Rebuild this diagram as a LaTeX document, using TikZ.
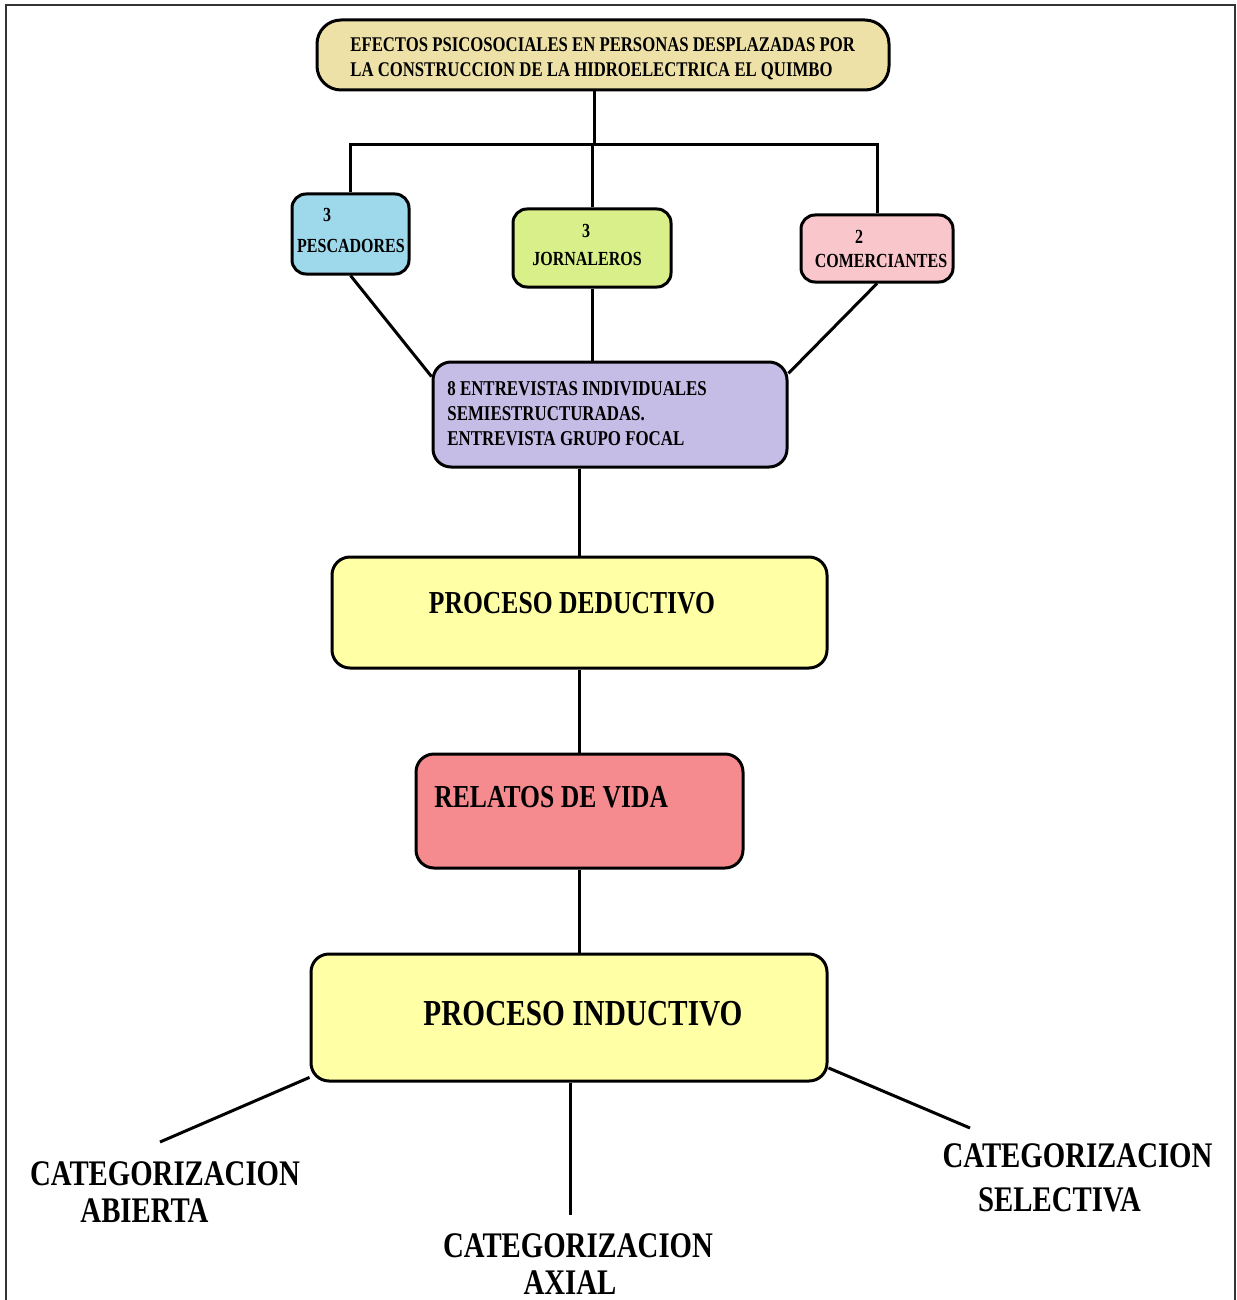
\documentclass[tikz,border=0pt]{standalone}
\usepackage{fontspec}
\setmainfont{Liberation Serif}[FakeStretch=0.8]
\usetikzlibrary{calc,positioning}

\definecolor{tanfill}{RGB}{238,225,168}
\definecolor{bluefill}{RGB}{157,217,235}
\definecolor{greenfill}{RGB}{217,240,138}
\definecolor{pinkfill}{RGB}{249,198,203}
\definecolor{lilacfill}{RGB}{197,189,230}
\definecolor{yellowfill}{RGB}{255,255,166}
\definecolor{redfill}{RGB}{245,139,143}

\begin{document}
\begin{tikzpicture}[x=0.5pt, y=-0.5pt]
  \useasboundingbox (0,0) rectangle (1236,1300);
  % ---- page frame (bottom edge runs off the page) -------------
  \draw[line width=0.8pt, black!80] (6,1320) -- (6,5) -- (1235,5) -- (1235,1320);

  % ---- styles --------------------------------------------------
  \tikzstyle{box}=[draw, line width=1.5pt, rounded corners=7pt, inner sep=0pt]
  \tikzstyle{small}=[font=\bfseries\fontsize{10}{12.5}\selectfont, inner sep=0pt]
  \tikzstyle{big}=[font=\bfseries\fontsize{16}{19}\selectfont, inner sep=0pt]
  \tikzstyle{cat}=[font=\bfseries\fontsize{18}{18.5}\selectfont, inner sep=0pt, align=center]
  \tikzstyle{link}=[line width=1.5pt]

  % ---- boxes ---------------------------------------------------
  \node[box, fill=tanfill, rounded corners=12pt,
        minimum width=286pt, minimum height=35pt]   (top)   at (603,55)    {};
  \node[box, fill=bluefill,
        minimum width=58.5pt, minimum height=40pt]  (pesc)  at (350.5,234) {};
  \node[box, fill=greenfill,
        minimum width=79pt, minimum height=39pt]    (jorn)  at (592,248)   {};
  \node[box, fill=pinkfill,
        minimum width=76pt, minimum height=33.5pt]  (comer) at (877,248.5) {};
  \node[box, fill=lilacfill, rounded corners=9pt,
        minimum width=177pt, minimum height=52.5pt] (entr)  at (610,414.5) {};
  \node[box, fill=yellowfill, rounded corners=9pt,
        minimum width=247.5pt, minimum height=55.5pt] (ded) at (579.5,612.5) {};
  \node[box, fill=redfill, rounded corners=9pt,
        minimum width=163.5pt, minimum height=57pt] (rel)   at (579.5,811) {};
  \node[box, fill=yellowfill, rounded corners=9pt,
        minimum width=258pt, minimum height=63.5pt] (ind)   at (569,1017.5) {};

  % ---- texts in the boxes --------------------------------------
  \node[small, font=\bfseries\fontsize{10.45}{12.5}\selectfont, anchor=west, align=left]
    (top-t) at (350,58.5)
    {EFECTOS PSICOSOCIALES EN PERSONAS DESPLAZADAS POR\\
     LA CONSTRUCCION DE LA HIDROELECTRICA EL QUIMBO};
  \node[small] (pesc-n)  at (327,215) {3};
  \node[small] (pesc-t)  at (351,246) {PESCADORES};
  \node[small] (jorn-n)  at (586,231) {3};
  \node[small] (jorn-t)  at (587,259) {JORNALEROS};
  \node[small] (comer-n) at (859,237) {2};
  \node[small] (comer-t) at (881,261) {COMERCIANTES};
  \node[small, font=\bfseries\fontsize{10.55}{12.5}\selectfont, anchor=west, align=left]
    (entr-t) at (447,414)
    {8 ENTREVISTAS INDIVIDUALES\\ SEMIESTRUCTURADAS.\\ ENTREVISTA GRUPO FOCAL};
  \node[big] (ded-t) at (572,603) {PROCESO DEDUCTIVO};
  \node[big, anchor=west] (rel-t) at (434,797) {RELATOS DE VIDA};
  \node[big, font=\bfseries\fontsize{18.3}{19}\selectfont] (ind-t) at (583,1014) {PROCESO INDUCTIVO};

  % ---- category labels -----------------------------------------
  \node[cat] (abierta)   at (165,1192.5)
    {CATEGORIZACION\\ABIERTA\hspace*{20.5pt}};
  \node[cat] (axial)     at (578,1264.5)
    {CATEGORIZACION\\AXIAL\hspace*{8pt}};
  \node[cat, font=\bfseries\fontsize{18}{22}\selectfont] (selectiva) at (1077.5,1178)
    {CATEGORIZACION\\SELECTIVA\hspace*{18pt}};

  % ---- connectors ----------------------------------------------
  \coordinate (bus) at (594,145);
  \draw[link] (top.south -| bus) -- (bus);
  \draw[link] (pesc.north) |- (bus) -| (comer.north);
  \draw[link] (jorn.north) -- (jorn.north |- bus);
  \draw[link] (pesc.south) -- (entr.168);
  \draw[link] (jorn.south) -- (jorn.south |- entr.north);
  \draw[link] (comer.south) -- (entr.13);
  \draw[link] (entr.south -| ded.north) -- (ded.north);
  \draw[link] (ded.south) -- (rel.north);
  \draw[link] (rel.south) -- (rel.south |- ind.north);

  \coordinate (abierta-end)   at (160,1142);
  \coordinate (axial-end)     at (570,1215);
  \coordinate (selectiva-end) at (970,1128);
  \draw[link] (ind.193) -- (abierta-end);
  \draw[link] (ind.south -| axial-end) -- (axial-end);
  \draw[link] (ind.349) -- (selectiva-end);
\end{tikzpicture}
\end{document}
